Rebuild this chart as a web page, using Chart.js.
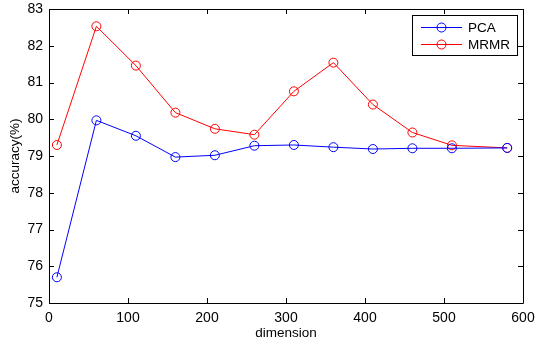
<!DOCTYPE html>
<html>
<head>
<meta charset="utf-8">
<script src="https://cdn.jsdelivr.net/npm/chart.js@4"></script>
<style>
  html, body { margin: 0; padding: 0; background: #fff; }
  #wrap { width: 535px; height: 341px; }
</style>
</head>
<body>
<div id="wrap"><canvas id="chart" width="535" height="341"></canvas></div>
<script>
// ---- Data ----
const dims = [10, 60, 110, 160, 210, 260, 310, 360, 410, 460, 510, 580];
const pcaAcc = [75.70, 79.97, 79.55, 78.97, 79.02, 79.28, 79.30, 79.24, 79.19, 79.21, 79.21, 79.22];
const mrmrAcc = [79.30, 82.53, 81.46, 80.18, 79.74, 79.58, 80.76, 81.54, 80.40, 79.64, 79.29, 79.22];
const xTicks = [0, 100, 200, 300, 400, 500, 600];
const yTicks = [75, 76, 77, 78, 79, 80, 81, 82, 83];

const FONT = '"Liberation Sans", Arial, sans-serif';

function toPoints(xs, ys) {
  return xs.map((x, i) => ({ x: x, y: ys[i] }));
}

// ---- Plugin: MATLAB style box, inward ticks, legend ----
const matlabFrame = {
  id: 'matlabFrame',
  afterDraw(chart) {
    const { ctx, chartArea: a, scales } = chart;
    const tl = 5;
    ctx.save();
    ctx.strokeStyle = '#000';
    ctx.lineWidth = 1;
    ctx.beginPath();
    ctx.rect(Math.round(a.left) + 0.5, Math.round(a.top) + 0.5,
      Math.round(a.right - a.left), Math.round(a.bottom - a.top));
    ctx.stroke();

    ctx.beginPath();
    xTicks.forEach(v => {
      const px = Math.round(scales.x.getPixelForValue(v)) + 0.5;
      ctx.moveTo(px, a.bottom); ctx.lineTo(px, a.bottom - tl);
      ctx.moveTo(px, a.top); ctx.lineTo(px, a.top + tl);
    });
    yTicks.forEach(v => {
      const py = Math.round(scales.y.getPixelForValue(v)) + 0.5;
      ctx.moveTo(a.left, py); ctx.lineTo(a.left + tl, py);
      ctx.moveTo(a.right, py); ctx.lineTo(a.right - tl, py);
    });
    ctx.stroke();

    // legend box
    const lx = 412, ly = 15, lw = 105, lh = 40;
    ctx.fillStyle = '#fff';
    ctx.fillRect(lx, ly, lw, lh);
    ctx.strokeRect(lx + 0.5, ly + 0.5, lw, lh);
    const rows = [ly + 12, ly + 29];
    chart.data.datasets.forEach((ds, i) => {
      const y = rows[i] + 0.5;
      ctx.strokeStyle = ds.borderColor;
      ctx.beginPath();
      ctx.moveTo(421, y); ctx.lineTo(462, y);
      ctx.stroke();
      ctx.beginPath();
      ctx.arc(441.5, y, 4.5, 0, Math.PI * 2);
      ctx.stroke();
      ctx.fillStyle = '#000';
      ctx.font = '13.5px ' + FONT;
      ctx.textBaseline = 'middle';
      ctx.textAlign = 'left';
      ctx.fillText(ds.label, 468, y + 0.5);
    });
    ctx.restore();
  }
};

// ---- Chart ----
new Chart(document.getElementById('chart'), {
  type: 'line',
  data: {
    datasets: [
      {
        label: 'PCA',
        data: toPoints(dims, pcaAcc),
        borderColor: '#0000ff',
        backgroundColor: 'transparent',
        borderWidth: 1,
        pointRadius: 4.5,
        pointBorderWidth: 1,
        pointBackgroundColor: 'transparent',
        tension: 0
      },
      {
        label: 'MRMR',
        data: toPoints(dims, mrmrAcc),
        borderColor: '#ff0000',
        backgroundColor: 'transparent',
        borderWidth: 1,
        pointRadius: 4.5,
        pointBorderWidth: 1,
        pointBackgroundColor: 'transparent',
        tension: 0
      }
    ]
  },
  options: {
    responsive: false,
    animation: false,
    layout: { padding: { top: 9, right: 12, bottom: 0, left: 0 } },
    plugins: {
      legend: { display: false },
      tooltip: { enabled: false }
    },
    scales: {
      x: {
        type: 'linear',
        min: 0,
        max: 600,
        afterFit: s => { s.height = 38; s.paddingLeft = 0; s.paddingRight = 0; },
        afterBuildTicks: s => { s.ticks = xTicks.map(v => ({ value: v })); },
        grid: { display: false, drawTicks: false },
        border: { display: false },
        ticks: { color: '#000', padding: 7, maxRotation: 0, font: { family: FONT, size: 14 } },
        title: {
          display: true,
          text: 'dimension',
          color: '#000',
          padding: { top: 0, bottom: 0 },
          font: { family: FONT, size: 13.5 }
        }
      },
      y: {
        min: 75,
        max: 83,
        afterFit: s => { s.width = 49; s.paddingTop = 0; s.paddingBottom = 0; },
        afterBuildTicks: s => { s.ticks = yTicks.map(v => ({ value: v })); },
        grid: { display: false, drawTicks: false },
        border: { display: false },
        ticks: { color: '#000', padding: 6, font: { family: FONT, size: 14 } },
        title: {
          display: true,
          text: 'accuracy(%)',
          color: '#000',
          padding: { top: 7, bottom: 0 },
          font: { family: FONT, size: 13.5 }
        }
      }
    }
  },
  plugins: [matlabFrame]
});
</script>
</body>
</html>
